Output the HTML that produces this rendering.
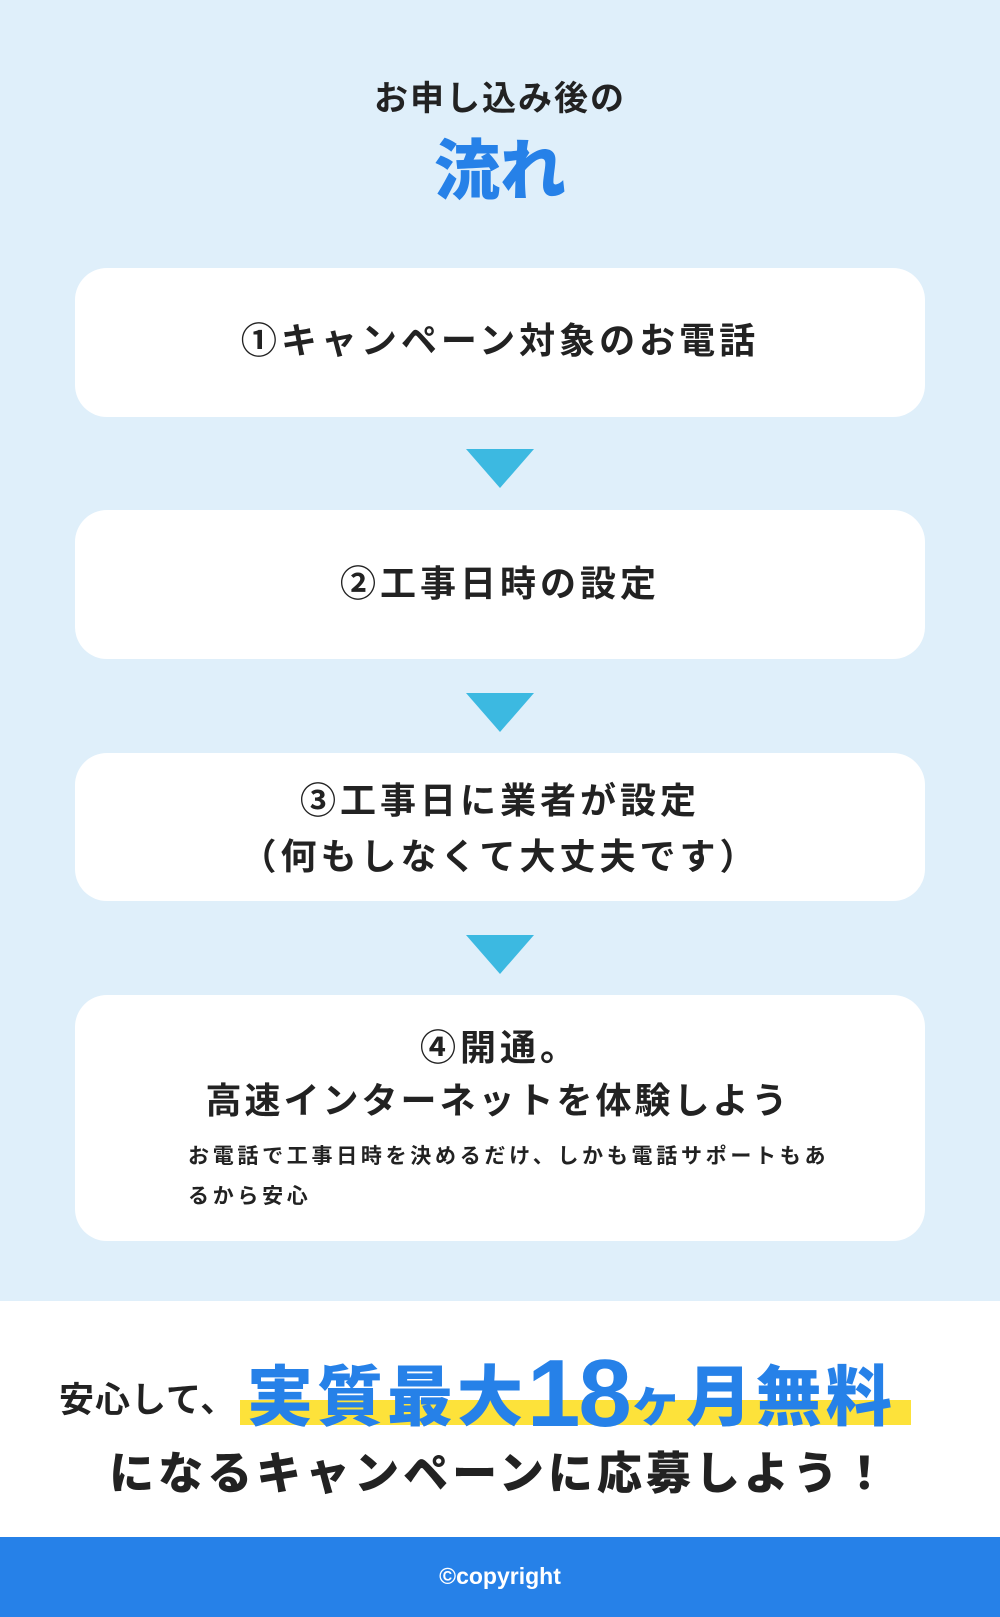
<!DOCTYPE html>
<html><head><meta charset="utf-8"><style>
*{margin:0;padding:0;box-sizing:border-box}
body{width:1000px;height:1617px;position:relative;background:#dfeffa;font-family:"Liberation Sans","Noto Sans CJK JP",sans-serif;color:#222;overflow:hidden}
.a{position:absolute;white-space:nowrap}
.c{left:0;width:1000px;text-align:center}
.box{position:absolute;left:75px;width:850px;background:#fff;border-radius:32px}
.t{font-size:36px;font-weight:700;letter-spacing:4px;line-height:1}
.arr{position:absolute;left:466px;width:0;height:0;border-left:34px solid transparent;border-right:34px solid transparent;border-top:39px solid #3cb9e1}
</style></head><body>
<div class="a c" style="top:82px;font-size:34px;font-weight:700;letter-spacing:2px;line-height:1">お申し込み後の</div>
<div class="a c" style="top:138px;font-size:66px;font-weight:900;color:#2681e8;line-height:1">流れ</div>

<div class="box" style="top:268px;height:149px"></div>
<div class="a c t" style="top:323px">①キャンペーン対象のお電話</div>
<div class="arr" style="top:449px"></div>

<div class="box" style="top:510px;height:149px"></div>
<div class="a c t" style="top:566px">②工事日時の設定</div>
<div class="arr" style="top:693px"></div>

<div class="box" style="top:753px;height:148px"></div>
<div class="a c t" style="top:783px">③工事日に業者が設定</div>
<div class="a c t" style="top:839px">（何もしなくて大丈夫です）</div>
<div class="arr" style="top:935px"></div>

<div class="box" style="top:995px;height:246px"></div>
<div class="a c t" style="top:1030px">④開通。</div>
<div class="a c t" style="top:1083px;letter-spacing:3px;left:-2px">高速インターネットを体験しよう</div>
<div class="a" style="left:188px;top:1146px;font-size:21px;font-weight:700;letter-spacing:3.7px;line-height:1">お電話で工事日時を決めるだけ、しかも電話サポートもあ</div>
<div class="a" style="left:188px;top:1186px;font-size:21px;font-weight:700;letter-spacing:3.7px;line-height:1">るから安心</div>

<div style="position:absolute;left:0;top:1301px;width:1000px;height:236px;background:#fff"></div>
<div style="position:absolute;left:240px;top:1400px;width:671px;height:25px;background:#fde23a"></div>
<div class="a" style="left:59px;top:1383px;font-size:35px;font-weight:700;line-height:1;letter-spacing:1px">安心して、</div>
<div class="a" style="left:247px;top:1340px;font-size:66px;font-weight:900;color:#2681e8;line-height:1;letter-spacing:4px">実質最大<span style="font-size:96px;position:relative;top:6px;letter-spacing:-2px">18</span><span style="font-size:52px">ヶ</span>月無料</div>
<div class="a c" style="top:1451px;font-size:45px;font-weight:900;letter-spacing:4px;line-height:1">になるキャンペーンに応募しよう！</div>

<div style="position:absolute;left:0;top:1537px;width:1000px;height:80px;background:#2681e8"></div>
<div class="a c" style="top:1565px;font-size:23px;font-weight:700;color:#fff;line-height:1">©copyright</div>
</body></html>
